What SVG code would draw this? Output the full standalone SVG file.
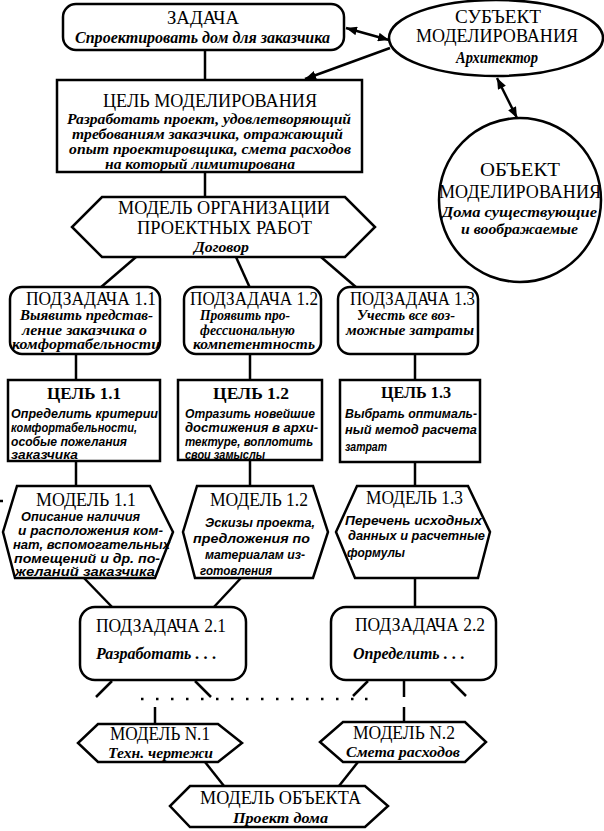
<svg xmlns="http://www.w3.org/2000/svg" width="604" height="831" viewBox="0 0 604 831">
<style>
.b{fill:#fff;stroke:#000;stroke-width:2.5}
.c{stroke:#000;stroke-width:2.5;fill:none}
text{fill:#000}
.t{font-family:"Liberation Serif","Times New Roman",serif;font-size:18px}
.tb{font-family:"Liberation Serif","Times New Roman",serif;font-size:17px;font-weight:bold}
.i{font-family:"Liberation Serif","Times New Roman",serif;font-size:16px;font-style:italic;font-weight:bold}
.m{font-family:"Liberation Serif","Times New Roman",serif;font-size:14px;font-style:italic;font-weight:bold}
.s{font-family:"Liberation Sans",Arial,sans-serif;font-size:12.5px;font-style:italic;font-weight:bold}
</style>
<defs>
<marker id="ah" viewBox="0 0 10 8" refX="10" refY="4" markerWidth="11" markerHeight="9" markerUnits="userSpaceOnUse" orient="auto-start-reverse"><path d="M0,0 L10,4 L0,8 Z" fill="#000"/></marker>
</defs>
<rect width="604" height="831" fill="#fff"/>
<g id="connectors">
<line class="c" x1="205" y1="50" x2="205" y2="80"/>
<line class="c" x1="205" y1="172" x2="205" y2="197"/>
<line class="c" x1="346" y1="28" x2="389" y2="40" marker-start="url(#ah)" marker-end="url(#ah)"/>
<line class="c" x1="390" y1="48" x2="305" y2="79" marker-end="url(#ah)"/>
<line class="c" x1="497" y1="78" x2="517" y2="118" marker-start="url(#ah)" marker-end="url(#ah)"/>
<line class="c" x1="136" y1="257" x2="100" y2="288"/>
<line class="c" x1="236" y1="257" x2="250" y2="288"/>
<line class="c" x1="321" y1="257" x2="357" y2="288"/>
<line class="c" x1="76" y1="354" x2="76" y2="380"/>
<line class="c" x1="250" y1="354" x2="250" y2="380"/>
<line class="c" x1="415" y1="354" x2="415" y2="380"/>
<line class="c" x1="76" y1="461" x2="76" y2="486"/>
<line class="c" x1="250" y1="460" x2="250" y2="486"/>
<line class="c" x1="415" y1="462" x2="415" y2="486"/>
<line class="c" x1="84" y1="578" x2="113" y2="608"/>
<line class="c" x1="241" y1="578" x2="213" y2="608"/>
<line class="c" x1="415" y1="578" x2="415" y2="608"/>
<line class="c" x1="112" y1="681" x2="96" y2="697"/>
<line class="c" x1="195" y1="681" x2="211" y2="697"/>
<line class="c" x1="368" y1="681" x2="353" y2="696"/>
<line class="c" x1="404" y1="681" x2="404" y2="697"/>
<line class="c" x1="451" y1="681" x2="466" y2="696"/>
<line class="c" x1="155" y1="707" x2="155" y2="724"/>
<line class="c" x1="404" y1="707" x2="404" y2="722"/>
<line class="c" x1="205" y1="762" x2="224" y2="786"/>
<line class="c" x1="358" y1="762" x2="339" y2="786"/>
<line class="c" x1="0" y1="501" x2="3" y2="501"/>
<path d="M141,699 h2.5 M156,699 h2.5 M171,699 h2.5 M186,699 h2.5 M201,699 h2.5 M216,699 h2.5 M231,699 h2.5 M246,699 h2.5 M261,699 h2.5 M276,699 h2.5 M291,699 h2.5 M306,699 h2.5 M321,699 h2.5 M336,699 h2.5 M351,699 h2.5 M365,699 h2.5" stroke="#000" stroke-width="2.5"/>
</g>
<g id="zadacha">
<rect class="b" x="63" y="4" width="281" height="46" rx="13"/>
<text class="t" x="167" y="24" textLength="72" lengthAdjust="spacingAndGlyphs">ЗАДАЧА</text>
<text class="i" x="75" y="43" textLength="255" lengthAdjust="spacingAndGlyphs">Спроектировать дом для заказчика</text>
</g>
<g id="subject">
<ellipse class="b" cx="496" cy="38" rx="107" ry="38"/>
<text class="t" x="455" y="23" font-size="17" textLength="86" lengthAdjust="spacingAndGlyphs">СУБЪЕКТ</text>
<text class="t" x="416" y="42" font-size="17" textLength="162" lengthAdjust="spacingAndGlyphs">МОДЕЛИРОВАНИЯ</text>
<text class="i" x="456" y="63" textLength="82" lengthAdjust="spacingAndGlyphs">Архитектор</text>
</g>
<g id="object">
<ellipse class="b" cx="520" cy="200" rx="81" ry="82"/>
<text class="t" x="480" y="176" textLength="80" lengthAdjust="spacingAndGlyphs">ОБЪЕКТ</text>
<text class="t" x="439" y="198" textLength="162" lengthAdjust="spacingAndGlyphs">МОДЕЛИРОВАНИЯ</text>
<text class="m" x="442" y="217" textLength="155" lengthAdjust="spacingAndGlyphs">Дома существующие</text>
<text class="m" x="461" y="234" textLength="117" lengthAdjust="spacingAndGlyphs">и воображаемые</text>
</g>
<g id="goal">
<rect class="b" x="57" y="80" width="305" height="92"/>
<text class="t" x="103" y="107" textLength="214" lengthAdjust="spacingAndGlyphs">ЦЕЛЬ МОДЕЛИРОВАНИЯ</text>
<text class="m" x="67" y="124" textLength="284" lengthAdjust="spacingAndGlyphs">Разработать проект, удовлетворяющий</text>
<text class="m" x="72" y="139" textLength="271" lengthAdjust="spacingAndGlyphs">требованиям заказчика, отражающий</text>
<text class="m" x="69" y="154" textLength="282" lengthAdjust="spacingAndGlyphs">опыт проектировщика, смета расходов</text>
<text class="m" x="105" y="169" textLength="190" lengthAdjust="spacingAndGlyphs">на который лимитирована</text>
</g>
<g id="model-org">
<polygon class="b" points="102,197 345,197 375,227 345,257 102,257 72,227"/>
<text class="t" x="118" y="214" font-size="16" textLength="212" lengthAdjust="spacingAndGlyphs">МОДЕЛЬ ОРГАНИЗАЦИИ</text>
<text class="t" x="137" y="234" font-size="16" textLength="175" lengthAdjust="spacingAndGlyphs">ПРОЕКТНЫХ РАБОТ</text>
<text class="m" x="194" y="252" textLength="55" lengthAdjust="spacingAndGlyphs">Договор</text>
</g>
<g id="sub11">
<rect class="b" x="10" y="287" width="150" height="67" rx="12"/>
<text class="t" x="26" y="305" font-size="17" textLength="130" lengthAdjust="spacingAndGlyphs">ПОДЗАДАЧА 1.1</text>
<text class="m" x="20" y="320" textLength="133" lengthAdjust="spacingAndGlyphs">Выявить представ-</text>
<text class="m" x="22" y="335" textLength="125" lengthAdjust="spacingAndGlyphs">ление заказчика о</text>
<text class="m" x="12" y="349" textLength="148" lengthAdjust="spacingAndGlyphs">комфортабельности</text>
</g>
<g id="sub12">
<rect class="b" x="184" y="287" width="137" height="67" rx="12"/>
<text class="t" x="190" y="305" font-size="17" textLength="128" lengthAdjust="spacingAndGlyphs">ПОДЗАДАЧА 1.2</text>
<text class="m" x="200" y="320" textLength="90" lengthAdjust="spacingAndGlyphs">Проявить про-</text>
<text class="m" x="200" y="335" textLength="95" lengthAdjust="spacingAndGlyphs">фессиональную</text>
<text class="m" x="193" y="349" textLength="122" lengthAdjust="spacingAndGlyphs">компетентность</text>
</g>
<g id="sub13">
<rect class="b" x="338" y="287" width="140" height="67" rx="12"/>
<text class="t" x="350" y="305" font-size="17" textLength="125" lengthAdjust="spacingAndGlyphs">ПОДЗАДАЧА 1.3</text>
<text class="m" x="357" y="320" textLength="98" lengthAdjust="spacingAndGlyphs">Учесть все воз-</text>
<text class="m" x="346" y="335" textLength="128" lengthAdjust="spacingAndGlyphs">можные затраты</text>
</g>
<g id="goal11">
<rect class="b" x="8" y="380" width="152" height="81"/>
<text class="tb" x="47" y="399" textLength="74" lengthAdjust="spacingAndGlyphs">ЦЕЛЬ  1.1</text>
<text class="s" x="11" y="418" textLength="147" lengthAdjust="spacingAndGlyphs">Определить критерии</text>
<text class="s" x="11" y="432" textLength="126" lengthAdjust="spacingAndGlyphs">комфортабельности,</text>
<text class="s" x="11" y="446" textLength="116" lengthAdjust="spacingAndGlyphs">особые пожелания</text>
<text class="s" x="11" y="459" textLength="67" lengthAdjust="spacingAndGlyphs">заказчика</text>
</g>
<g id="goal12">
<rect class="b" x="178" y="380" width="144" height="80"/>
<text class="tb" x="213" y="399" textLength="76" lengthAdjust="spacingAndGlyphs">ЦЕЛЬ 1.2</text>
<text class="s" x="185" y="418" textLength="130" lengthAdjust="spacingAndGlyphs">Отразить новейшие</text>
<text class="s" x="185" y="432" textLength="133" lengthAdjust="spacingAndGlyphs">достижения в архи-</text>
<text class="s" x="185" y="446" textLength="128" lengthAdjust="spacingAndGlyphs">тектуре, воплотить</text>
<text class="s" x="185" y="459" textLength="80" lengthAdjust="spacingAndGlyphs">свои замыслы</text>
</g>
<g id="goal13">
<rect class="b" x="340" y="380" width="140" height="82"/>
<text class="tb" x="381" y="398" textLength="70" lengthAdjust="spacingAndGlyphs">ЦЕЛЬ 1.3</text>
<text class="s" x="345" y="418" textLength="132" lengthAdjust="spacingAndGlyphs">Выбрать оптималь-</text>
<text class="s" x="345" y="434" textLength="132" lengthAdjust="spacingAndGlyphs">ный метод расчета</text>
<text class="s" x="345" y="451" textLength="42" lengthAdjust="spacingAndGlyphs">затрат</text>
</g>
<g id="model11">
<polygon class="b" points="17,486 150,486 173,532 155,578 15,578 3,532"/>
<text class="t" x="36" y="506" textLength="100" lengthAdjust="spacingAndGlyphs">МОДЕЛЬ 1.1</text>
<text class="s" x="21" y="521" textLength="119" lengthAdjust="spacingAndGlyphs">Описание наличия</text>
<text class="s" x="18" y="535" textLength="145" lengthAdjust="spacingAndGlyphs">и расположения ком-</text>
<text class="s" x="13" y="549" textLength="157" lengthAdjust="spacingAndGlyphs">нат, вспомогательных</text>
<text class="s" x="14" y="563" textLength="146" lengthAdjust="spacingAndGlyphs">помещений и др. по-</text>
<text class="s" x="15" y="576" textLength="140" lengthAdjust="spacingAndGlyphs">желаний заказчика</text>
</g>
<g id="model12">
<polygon class="b" points="197,486 313,486 328,532 313,578 195,578 183,532"/>
<text class="t" x="210" y="506" textLength="98" lengthAdjust="spacingAndGlyphs">МОДЕЛЬ 1.2</text>
<text class="s" x="205" y="527" textLength="110" lengthAdjust="spacingAndGlyphs">Эскизы проекта,</text>
<text class="s" x="193" y="543" textLength="117" lengthAdjust="spacingAndGlyphs">предложения по</text>
<text class="s" x="205" y="559" textLength="100" lengthAdjust="spacingAndGlyphs">материалам из-</text>
<text class="s" x="200" y="575" textLength="72" lengthAdjust="spacingAndGlyphs">готовления</text>
</g>
<g id="model13">
<polygon class="b" points="357,486 468,486 490,532 478,578 355,578 336,532"/>
<text class="t" x="366" y="504" textLength="97" lengthAdjust="spacingAndGlyphs">МОДЕЛЬ 1.3</text>
<text class="s" x="345" y="525" textLength="137" lengthAdjust="spacingAndGlyphs">Перечень исходных</text>
<text class="s" x="348" y="540" textLength="137" lengthAdjust="spacingAndGlyphs">данных и расчетные</text>
<text class="s" x="347" y="557" textLength="58" lengthAdjust="spacingAndGlyphs">формулы</text>
</g>
<g id="sub21">
<rect class="b" x="80" y="607" width="166" height="73" rx="15"/>
<text class="t" x="96" y="632" textLength="130" lengthAdjust="spacingAndGlyphs">ПОДЗАДАЧА 2.1</text>
<text class="i" x="96" y="659">Разработать <tspan font-size="17">. . .</tspan></text>
</g>
<g id="sub22">
<rect class="b" x="331" y="607" width="165" height="73" rx="15"/>
<text class="t" x="355" y="631" textLength="130" lengthAdjust="spacingAndGlyphs">ПОДЗАДАЧА 2.2</text>
<text class="i" x="353" y="659">Определить <tspan font-size="17">. . .</tspan></text>
</g>
<g id="modelN1">
<polygon class="b" points="98,724 218,724 242,743 218,762 98,762 78,743"/>
<text class="t" x="110" y="740" font-size="17" textLength="100" lengthAdjust="spacingAndGlyphs">МОДЕЛЬ N.1</text>
<text class="m" x="108" y="758" font-size="15" textLength="105" lengthAdjust="spacingAndGlyphs">Техн. чертежи</text>
</g>
<g id="modelN2">
<polygon class="b" points="343,722 465,722 486,742 465,762 343,762 320,742"/>
<text class="t" x="353" y="739" font-size="17" textLength="102" lengthAdjust="spacingAndGlyphs">МОДЕЛЬ N.2</text>
<text class="m" x="346" y="757" font-size="15" textLength="114" lengthAdjust="spacingAndGlyphs">Смета расходов</text>
</g>
<g id="model-object">
<polygon class="b" points="190,786 365,786 388,806 365,827 190,827 170,806"/>
<text class="t" x="200" y="804" font-size="17" textLength="161" lengthAdjust="spacingAndGlyphs">МОДЕЛЬ ОБЪЕКТА</text>
<text class="m" x="233" y="823" font-size="15" textLength="95" lengthAdjust="spacingAndGlyphs">Проект дома</text>
</g>
</svg>
